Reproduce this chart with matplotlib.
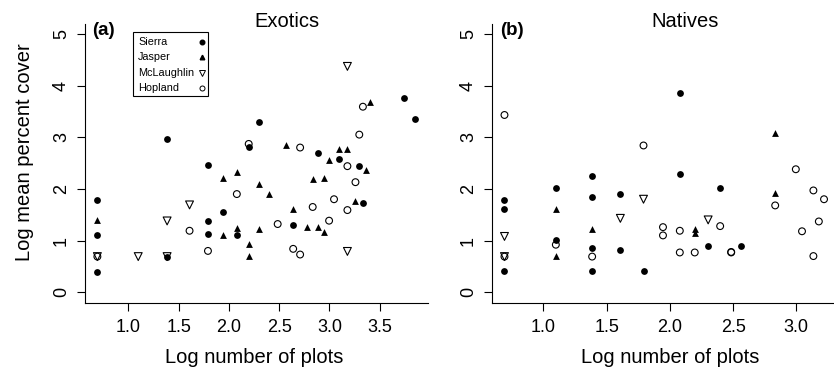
import matplotlib
matplotlib.use("Agg")
import matplotlib.pyplot as plt
from matplotlib.lines import Line2D
from matplotlib.patches import Rectangle

plt.rcParams['font.family'] = ['Liberation Sans', 'DejaVu Sans']

# Exotics (a)
exo_sierra_x = [0.693, 0.693, 0.693, 1.386, 1.386, 1.792, 1.792, 1.792, 1.946, 2.079,
                2.197, 2.303, 2.639, 2.890, 3.091, 3.296, 3.332, 3.738, 3.850]
exo_sierra_y = [1.79, 1.10, 0.40, 2.96, 0.69, 2.46, 1.385, 1.13, 1.56, 1.10,
                2.81, 3.30, 1.30, 2.70, 2.58, 2.45, 1.73, 3.75, 3.35]
exo_jasper_x = [0.693, 1.946, 1.946, 2.079, 2.079, 2.197, 2.197, 2.303, 2.303, 2.398,
                2.565, 2.639, 2.773, 2.833, 2.890, 2.944, 2.944, 2.996, 3.091, 3.178,
                3.258, 3.367, 3.401]
exo_jasper_y = [1.39, 2.21, 1.11, 2.33, 1.24, 0.93, 0.70, 2.09, 1.23, 1.90,
                2.85, 1.62, 1.26, 2.19, 1.27, 2.21, 1.17, 2.56, 2.77, 2.77,
                1.77, 2.37, 3.68]
exo_mcl_x = [0.693, 1.099, 1.386, 1.386, 1.609, 3.178, 3.178]
exo_mcl_y = [0.69, 0.69, 1.38, 0.69, 1.69, 4.37, 0.79]
exo_hop_x = [0.693, 1.609, 1.792, 2.079, 2.197, 2.485, 2.639, 2.708, 2.708, 2.833,
             2.996, 3.045, 3.178, 3.178, 3.258, 3.296, 3.332]
exo_hop_y = [0.69, 1.19, 0.80, 1.90, 2.87, 1.32, 0.84, 2.80, 0.73, 1.65,
             1.385, 1.80, 2.44, 1.59, 2.13, 3.05, 3.59]

# Natives (b)
nat_sierra_x = [0.693, 0.693, 0.693, 1.099, 1.099, 1.386, 1.386, 1.386, 1.386, 1.609,
                1.609, 1.792, 2.079, 2.079, 2.303, 2.398, 2.565]
nat_sierra_y = [1.79, 1.61, 0.41, 2.01, 1.01, 2.24, 1.84, 0.85, 0.41, 1.90,
                0.82, 0.41, 3.85, 2.28, 0.90, 2.01, 0.90]
nat_jasper_x = [1.099, 1.099, 1.386, 2.197, 2.197, 2.833, 2.833]
nat_jasper_y = [1.61, 0.70, 1.22, 1.22, 1.15, 3.09, 1.92]
nat_mcl_x = [0.693, 0.693, 1.609, 1.792, 2.303]
nat_mcl_y = [1.08, 0.69, 1.43, 1.80, 1.40]
nat_hop_x = [0.693, 0.693, 1.099, 1.386, 1.792, 1.946, 1.946, 2.079, 2.079, 2.197,
             2.398, 2.485, 2.485, 2.833, 2.996, 3.045, 3.135, 3.135, 3.178, 3.219]
nat_hop_y = [3.43, 0.69, 0.92, 0.69, 2.84, 1.26, 1.10, 1.19, 0.77, 0.77,
             1.28, 0.78, 0.77, 1.68, 2.38, 1.18, 1.97, 0.70, 1.37, 1.80]

sites = ["Sierra", "Jasper", "McLaughlin", "Hopland"]
yticks = [0, 1, 2, 3, 4, 5]

W, H = 834, 372
fig = plt.figure(figsize=(W / 100, H / 100), dpi=100)
ax1 = fig.add_axes([84.7 / W, 1 - 302.6 / H, 343.0 / W, 279.1 / H])
ax2 = fig.add_axes([491.7 / W, 1 - 302.6 / H, 345.1 / W, 279.1 / H])


def draw(ax, sx, sy, jx, jy, mx, my, hx, hy, xticks, xlim):
    ax.scatter(sx, sy, s=24, marker='o', color='black', linewidths=0)
    ax.scatter(jx, jy, s=24, marker='^', color='black', linewidths=0)
    ax.scatter(mx, my, s=32, marker='v', facecolors='none', edgecolors='black', linewidths=0.8)
    ax.scatter(hx, hy, s=24, marker='o', facecolors='none', edgecolors='black', linewidths=0.8)
    ax.set_xlim(*xlim)
    ax.set_ylim(-0.2, 5.2)
    ax.set_xticks(xticks)
    ax.set_xticklabels([f"{t:.1f}" for t in xticks])
    ax.set_yticks(yticks)
    ax.set_yticklabels([str(t) for t in yticks], rotation=90, va='center')
    for s in ['top', 'right']:
        ax.spines[s].set_visible(False)
    for s in ['left', 'bottom']:
        ax.spines[s].set_linewidth(0.8)
    ax.tick_params(direction='out', length=5.5, width=0.8, labelsize=13, pad=6)
    ax.tick_params(axis='y', pad=5)
    ax.set_xlabel("Log number of plots", fontsize=14.5, labelpad=9)


draw(ax1, exo_sierra_x, exo_sierra_y, exo_jasper_x, exo_jasper_y,
     exo_mcl_x, exo_mcl_y, exo_hop_x, exo_hop_y,
     [1.0, 1.5, 2.0, 2.5, 3.0, 3.5], (0.567, 3.976))
draw(ax2, nat_sierra_x, nat_sierra_y, nat_jasper_x, nat_jasper_y,
     nat_mcl_x, nat_mcl_y, nat_hop_x, nat_hop_y,
     [1.0, 1.5, 2.0, 2.5, 3.0], (0.592, 3.320))
ax1.xaxis.label.set_x(0.495)
ax2.xaxis.label.set_x(0.518)

fig.text(25 / W, 1 - 151.7 / H, "Log mean percent cover", fontsize=14.5,
         rotation=90, ha='center', va='center')
fig.text(286.5 / W, 1 - 27 / H, "Exotics", fontsize=14.5, ha='center', va='baseline')
fig.text(685.5 / W, 1 - 27 / H, "Natives", fontsize=14.5, ha='center', va='baseline')
fig.text(92 / W, 1 - 35 / H, "(a)", fontsize=13.5, fontweight='bold', ha='left', va='baseline')
fig.text(500 / W, 1 - 35 / H, "(b)", fontsize=13.5, fontweight='bold', ha='left', va='baseline')

# legend box: labels on the left, symbols on the right
fig.add_artist(Rectangle((133.3 / W, 1 - 96 / H), 75 / W, 63.7 / H, transform=fig.transFigure,
                         fill=False, edgecolor='black', linewidth=0.8))
leg_style = [
    dict(marker='o', color='black', markersize=3.3),
    dict(marker='^', color='black', markersize=3.3),
    dict(marker='v', markerfacecolor='none', markeredgecolor='black', markersize=4.2,
         markeredgewidth=0.7),
    dict(marker='o', markerfacecolor='none', markeredgecolor='black', markersize=3.6,
         markeredgewidth=0.7),
]
for i, (name, st) in enumerate(zip(sites, leg_style)):
    yy = 1 - (41.7 + i * 15.5) / H
    fig.text(138.3 / W, yy, name, fontsize=7.8, ha='left', va='center')
    fig.add_artist(Line2D([201.7 / W], [yy], transform=fig.transFigure, ls='none', **st))

fig.savefig("out.png", dpi=100)
